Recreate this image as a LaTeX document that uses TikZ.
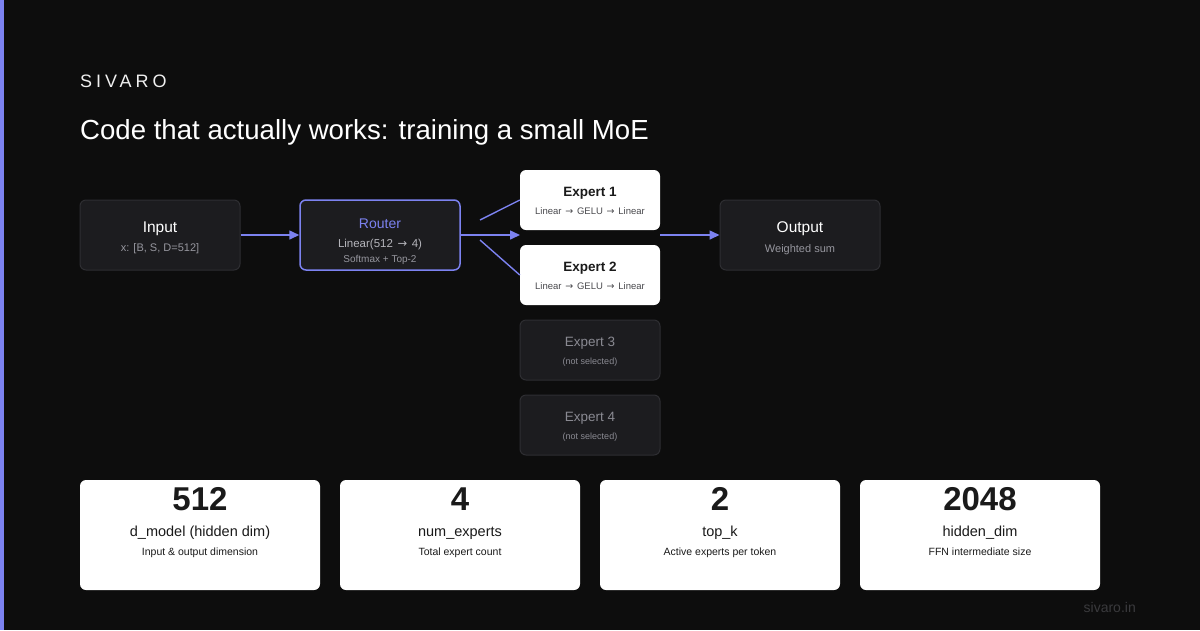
\documentclass[tikz,border=0pt]{standalone}
\usepackage{fontspec}
\setmainfont{Liberation Sans}
\newfontfamily\arrowfont{DejaVu Sans}
\usetikzlibrary{arrows.meta,positioning}
\definecolor{canvas}{HTML}{0D0D0D}
\definecolor{accent}{HTML}{7C82F0}
\definecolor{panel}{HTML}{1C1C1F}
\definecolor{panelline}{HTML}{2E2E32}
\definecolor{softtext}{HTML}{B4B4BA}
\definecolor{mutedtext}{HTML}{96969E}
\definecolor{idletext}{HTML}{8A8A92}
\definecolor{inktext}{HTML}{1A1A1A}
\definecolor{graytext}{HTML}{4A4A4E}
\definecolor{foottext}{HTML}{3A3A3D}

\newcommand{\fsz}[1]{\fontsize{#1}{#1}\selectfont}
\newcommand{\toarrow}{\hspace{0.12em}{\arrowfont→}\hspace{0.12em}}

\begin{document}
\begin{tikzpicture}[x=1pt, y=-1pt,
  darkbox/.style={rectangle, draw=panelline, line width=1pt, fill=panel, rounded corners=6pt, minimum width=160pt, minimum height=70pt, inner sep=0pt},
  routerbox/.style={darkbox, draw=accent, line width=1.5pt},
  expertbox/.style={rectangle, fill=white, rounded corners=6pt, minimum width=140pt, minimum height=60pt, inner sep=0pt},
  idlebox/.style={expertbox, fill=panel, draw=panelline, line width=1pt},
  statcard/.style={rectangle, fill=white, rounded corners=6pt, minimum width=240pt, minimum height=110pt, inner sep=0pt},
  txt/.style={anchor=base, inner sep=0pt},
  lefttxt/.style={anchor=base west, inner sep=0pt},
  arr/.style={-{Triangle[length=10pt, width=9pt]}, line width=1.6pt, accent},
  fan/.style={line width=1.4pt, accent}
]
  \useasboundingbox (0,0) rectangle (1200,630);
  \fill[canvas] (0,0) rectangle (1200,630);
  \fill[accent] (0,0) rectangle (4,630);

  % heading
  \node[lefttxt, text=white!94!black, font=\fsz{18}\addfontfeature{LetterSpace=22}] (brand) at (80,87.5) {SIVARO};
  \node[lefttxt, text=white, font=\fsz{27.6}] (title) at (80,139.5) {Code that actually works: training a small MoE};

  % pipeline
  \node[darkbox] (input) at (160,235) {};
  \node[txt, text=white, font=\fsz{15.5}] (inputname) at (160,232) {Input};
  \node[txt, text=mutedtext, font=\fsz{11}] (inputshape) at (160,251) {x: [B, S, D=512]};

  \node[routerbox] (router) at (380,235) {};
  \node[txt, text=accent, font=\fsz{14}] (routername) at (380,228.5) {Router};
  \node[txt, text=softtext, font=\fsz{11.5}] (routerlin) at (380,247.5) {Linear(512 \toarrow{} 4)};
  \node[txt, text=mutedtext, font=\fsz{10}] (routertop) at (380,262.5) {Softmax + Top-2};

  \node[expertbox] (expert1) at (590,200) {};
  \node[txt, text=inktext, font=\fsz{13.5}\bfseries] (expert1name) at (590,196.5) {Expert 1};
  \node[txt, text=graytext, font=\fsz{9.5}] (expert1ffn) at (590,214.3) {Linear \toarrow{} GELU \toarrow{} Linear};

  \node[expertbox] (expert2) at (590,275) {};
  \node[txt, text=inktext, font=\fsz{13.5}\bfseries] (expert2name) at (590,271.5) {Expert 2};
  \node[txt, text=graytext, font=\fsz{9.5}] (expert2ffn) at (590,289.3) {Linear \toarrow{} GELU \toarrow{} Linear};

  \node[idlebox] (expert3) at (590,350) {};
  \node[txt, text=idletext, font=\fsz{13.5}] (expert3name) at (590,346.7) {Expert 3};
  \node[txt, text=idletext, font=\fsz{9}] (expert3note) at (590,364.3) {(not selected)};

  \node[idlebox] (expert4) at (590,425) {};
  \node[txt, text=idletext, font=\fsz{13.5}] (expert4name) at (590,421.7) {Expert 4};
  \node[txt, text=idletext, font=\fsz{9}] (expert4note) at (590,439.3) {(not selected)};

  \node[darkbox] (output) at (800,235) {};
  \node[txt, text=white, font=\fsz{15.5}] (outputname) at (800,232.5) {Output};
  \node[txt, text=mutedtext, font=\fsz{11}] (outputsum) at (800,252) {Weighted sum};

  % connectors
  \coordinate (gapin) at (520,235);
  \coordinate (fanup) at (480,220);
  \coordinate (fandown) at (480,240);
  \coordinate (gapout) at (660,235);
  \draw[arr] (input) -- (router);
  \draw[arr] (router) -- (gapin);
  \draw[fan] (fanup) -- (expert1.west);
  \draw[fan] (fandown) -- (expert2.west);
  \draw[arr] (gapout) -- (output);

  % stats
  \node[statcard] (dmodel) at (200,535) {};
  \node[txt, text=inktext, font=\fsz{33}\bfseries] (dmodelval) at (200,510.5) {512};
  \node[txt, text=inktext, font=\fsz{14.5}] (dmodelkey) at (200,536) {d\_model (hidden dim)};
  \node[txt, text=inktext, font=\fsz{10.5}] (dmodelnote) at (200,555) {Input \& output dimension};

  \node[statcard] (nexp) at (460,535) {};
  \node[txt, text=inktext, font=\fsz{33}\bfseries] (nexpval) at (460,510.5) {4};
  \node[txt, text=inktext, font=\fsz{14.5}] (nexpkey) at (460,536) {num\_experts};
  \node[txt, text=inktext, font=\fsz{10.5}] (nexpnote) at (460,555) {Total expert count};

  \node[statcard] (topk) at (720,535) {};
  \node[txt, text=inktext, font=\fsz{33}\bfseries] (topkval) at (720,510.5) {2};
  \node[txt, text=inktext, font=\fsz{14.5}] (topkkey) at (720,536) {top\_k};
  \node[txt, text=inktext, font=\fsz{10.5}] (topknote) at (720,555) {Active experts per token};

  \node[statcard] (hdim) at (980,535) {};
  \node[txt, text=inktext, font=\fsz{33}\bfseries] (hdimval) at (980,510.5) {2048};
  \node[txt, text=inktext, font=\fsz{14.5}] (hdimkey) at (980,536) {hidden\_dim};
  \node[txt, text=inktext, font=\fsz{10.5}] (hdimnote) at (980,555) {FFN intermediate size};

  \node[anchor=base east, inner sep=0pt, text=foottext, font=\fsz{14}] (site) at (1136,612) {sivaro.in};
\end{tikzpicture}
\end{document}
